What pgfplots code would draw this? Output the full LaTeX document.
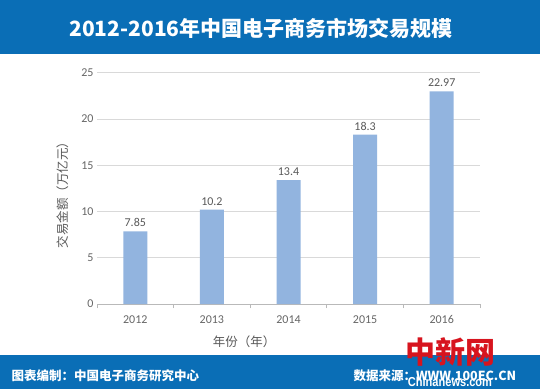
\documentclass[border=0pt]{standalone}
\usepackage{fontspec}
\setmainfont{Carlito}
\newfontfamily\cjk{Noto Sans CJK SC}
\newfontfamily\wm{Liberation Sans}
\usepackage{pgfplots}
\pgfplotsset{compat=1.18}
\definecolor{banner}{HTML}{0A6EB6}
\definecolor{barblue}{HTML}{92B4DF}
\definecolor{gridc}{HTML}{D9D9D9}
\definecolor{txt}{HTML}{595959}
\definecolor{tick}{HTML}{666666}
\definecolor{wmred}{HTML}{D7141E}
\begin{document}
\begin{tikzpicture}[x=1pt,y=1pt]
\useasboundingbox (0,0) rectangle (540,389);
\fill[white] (0,0) rectangle (540,389);
\fill[banner] (0,335) rectangle (540,389);
\fill[banner] (0,0) rectangle (540,34);
\node[white, font=\cjk\bfseries\fontsize{21}{24}\selectfont] at (261,361) {2012-2016年中国电子商务市场交易规模};

\begin{axis}[at={(97pt,85pt)}, anchor=south west, scale only axis,
  width=383pt, height=231.3pt,
  ymin=0, ymax=25, xmin=-0.5, xmax=4.5,
  ytick={0,5,...,25}, ymajorgrids, grid style={gridc, line width=0.8pt},
  xtick={0,...,4}, xticklabels={2012,2013,2014,2015,2016},
  axis x line*=bottom, axis y line*=left,
  x axis line style={-, draw=gray!55, line width=0.8pt},
  y axis line style={draw=none},
  ytick style={draw=none}, xtick style={draw=none},
  extra x ticks={-0.5,0.5,1.5,2.5,3.5,4.5}, extra x tick labels={},
  extra x tick style={xtick style={draw=gray!55, line width=0.8pt}, major tick length=4pt, tick align=outside},
  ybar, bar width=24pt,
  tick label style={font=\fontsize{12}{14}\selectfont, text=tick},
  xticklabel style={yshift=-4pt},
  /pgf/number format/assume math mode=true,
  nodes near coords,
  every node near coord/.append style={font=\fontsize{12}{14}\selectfont, text=txt, yshift=1pt},
]
\addplot[fill=barblue, draw=none] coordinates {(0,7.85) (1,10.2) (2,13.4) (3,18.3) (4,22.97)};
\end{axis}

\node[rotate=90, text=txt, font=\cjk\fontsize{12.5}{14}\selectfont] at (63,197) {交易金额（万亿元）};
\node[text=txt, font=\cjk\fontsize{12.5}{14}\selectfont] at (244,47) {年份（年）};

\node[anchor=west, white, font=\cjk\bfseries\fontsize{12.5}{14}\selectfont] at (8,13) {图表编制：中国电子商务研究中心};
\node[anchor=west, white, font=\cjk\bfseries\fontsize{12.5}{14}\selectfont] at (350,13) {数据来源：WWW.100EC.CN};

\node[wmred, font=\cjk\bfseries\fontsize{30}{32}\selectfont] at (450,37) {中新网};
\node[white, xscale=0.85, font=\wm\bfseries\fontsize{13}{14}\selectfont] at (450,7) {Chinanews.com};
\end{tikzpicture}
\end{document}
